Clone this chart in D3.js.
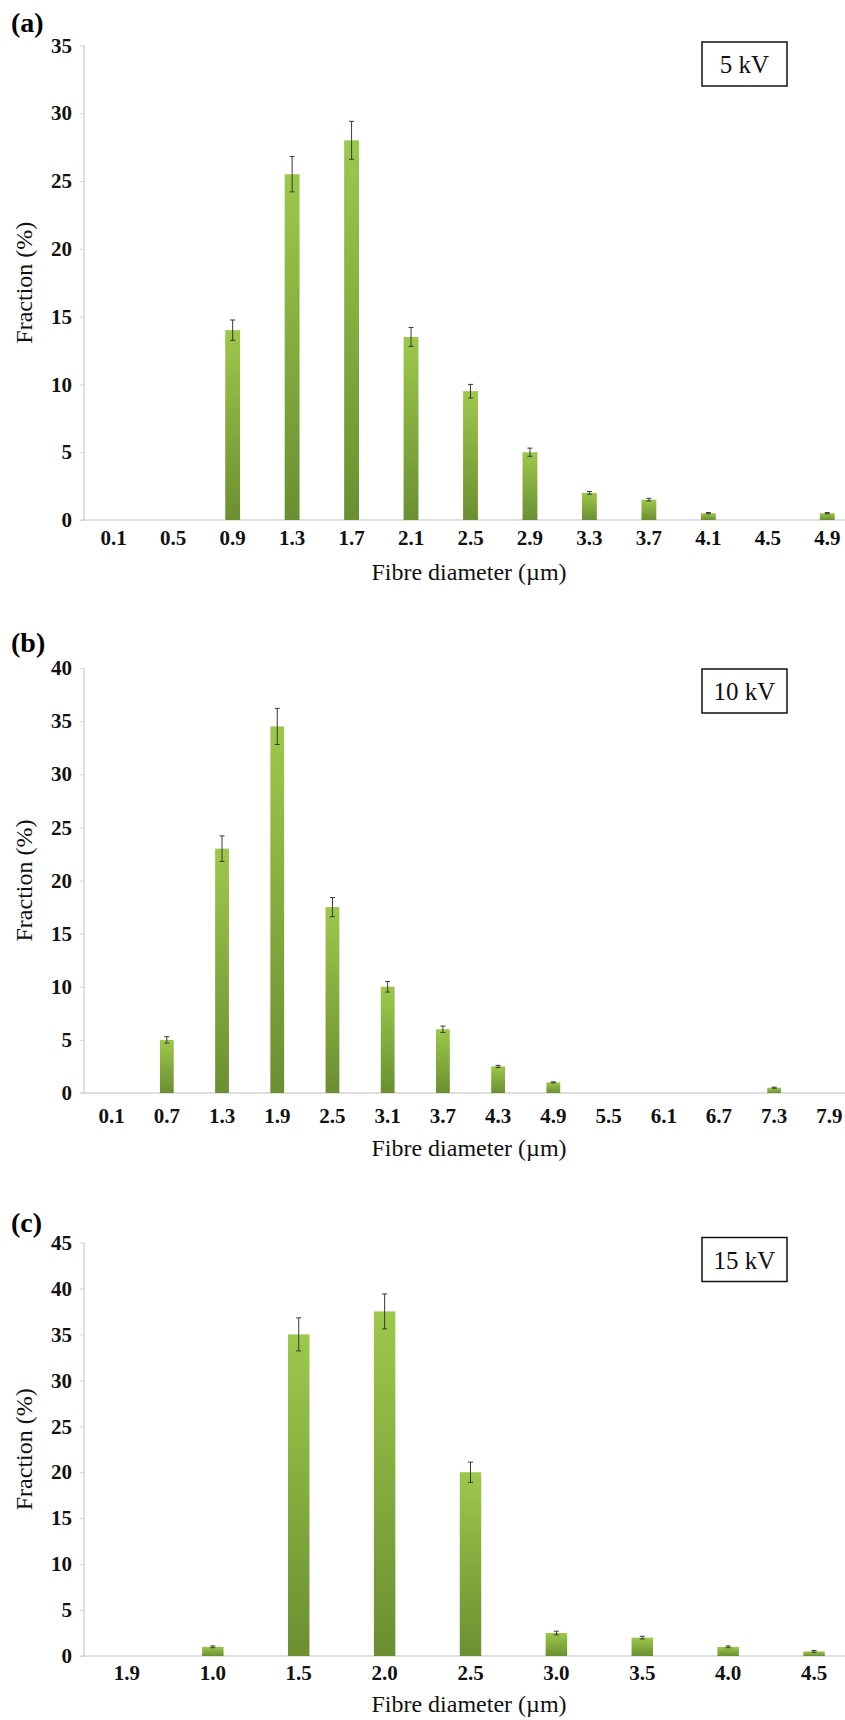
<!DOCTYPE html>
<html>
<head>
<meta charset="utf-8">
<script src="https://cdn.jsdelivr.net/npm/d3@7"></script>
<style>
body { margin: 0; background: #fff; }
svg  { display: block; }
svg text { font-family: "Liberation Serif", "Times New Roman", Times, "DejaVu Serif", serif !important; }
</style>
</head>
<body>
<svg id="chart" width="845" height="1720"></svg>
<script>
// (a) 5 kV
var catsA = [ '0.1', '0.5', '0.9', '1.3', '1.7', '2.1', '2.5', '2.9', '3.3', '3.7', '4.1', '4.5', '4.9' ];
var valsA = [ 0, 0, 14, 25.5, 28, 13.5, 9.5, 5, 2, 1.5, 0.5, 0, 0.5 ];
var errA  = [ 0, 0, 0.75, 1.3, 1.4, 0.7, 0.5, 0.3, 0.1, 0.1, 0.05, 0, 0.05 ];
// (b) 10 kV
var catsB = [ '0.1', '0.7', '1.3', '1.9', '2.5', '3.1', '3.7', '4.3', '4.9', '5.5', '6.1', '6.7', '7.3', '7.9' ];
var valsB = [ 0, 5, 23, 34.5, 17.5, 10, 6, 2.5, 1, 0, 0, 0, 0.5, 0 ];
var errB  = [ 0, 0.3, 1.2, 1.7, 0.9, 0.5, 0.3, 0.1, 0.05, 0, 0, 0, 0.05, 0 ];
// (c) 15 kV
var catsC = [ '1.9', '1.0', '1.5', '2.0', '2.5', '3.0', '3.5', '4.0', '4.5' ];
var valsC = [ 0, 1, 35, 37.5, 20, 2.5, 2, 1, 0.5 ];
var errC  = [ 0, 0.1, 1.8, 1.9, 1.1, 0.2, 0.15, 0.1, 0.1 ];
// y axis ticks
var ticksA = [ 0, 5, 10, 15, 20, 25, 30, 35 ];
var ticksB = [ 0, 5, 10, 15, 20, 25, 30, 35, 40 ];
var ticksC = [ 0, 5, 10, 15, 20, 25, 30, 35, 40, 45 ];

var xTitle = 'Fibre diameter (\u00b5m)';
var yTitle = 'Fraction (%)';

// layout of the three stacked panels (pixels)
var panels = [
	  { tag: '(a)', kv: '5 kV',  cats: catsA, vals: valsA, err: errA, ticks: ticksA, top: 45.4,   bottom: 520,  tagY: 32,   boxY: 42,     lblDy: 25, titleY: 580 }
	, { tag: '(b)', kv: '10 kV', cats: catsB, vals: valsB, err: errB, ticks: ticksB, top: 668,    bottom: 1093, tagY: 652,  boxY: 669,    lblDy: 30, titleY: 1156 }
	, { tag: '(c)', kv: '15 kV', cats: catsC, vals: valsC, err: errC, ticks: ticksC, top: 1242.5, bottom: 1656, tagY: 1232, boxY: 1237.5, lblDy: 24, titleY: 1712 }
];

var L = 84, R = 857; // plot area left / right
var svg = d3.select( '#chart' );

var grad = svg.append( 'defs' )
	.append( 'linearGradient' )
	.attr( 'id', 'barfill' )
	.attr( 'x1', 0 ).attr( 'y1', 0 )
	.attr( 'x2', 0 ).attr( 'y2', 1 );
grad.append( 'stop' ).attr( 'offset', '0%' ).attr( 'stop-color', '#9dc84b' );
grad.append( 'stop' ).attr( 'offset', '100%' ).attr( 'stop-color', '#6b8f31' );

panels.forEach( function( p ) {
	var g = svg.append( 'g' );
	var x = d3.scaleBand()
		.domain( p.cats )
		.range( [ L, R ] );
	var y = d3.scaleLinear()
		.domain( [ 0, p.ticks[ p.ticks.length - 1 ] ] )
		.range( [ p.bottom, p.top ] );
	var bw = x.bandwidth() / 4; // excel gap width 300%

	// y axis
	var yAxis = g.append( 'g' )
		.attr( 'transform', 'translate(' + L + ',0)' )
		.call( d3.axisLeft( y ).tickValues( p.ticks ).tickSize( 4 ).tickPadding( 8 ).tickFormat( d3.format( 'd' ) ) );
	yAxis.attr( 'font-family', null ).attr( 'font-size', null );
	yAxis.select( '.domain' ).attr( 'stroke', '#d4d4d4' ).attr( 'stroke-width', 1.5 ).attr( 'd', 'M0,' + y( 0 ) + 'V' + p.top );
	yAxis.selectAll( '.tick line' ).attr( 'stroke', '#d4d4d4' );
	yAxis.selectAll( '.tick text' )
		.attr( 'fill', '#111' )
		.style( 'font-size', '21px' )
		.style( 'font-weight', 'bold' );

	// x axis
	var xAxis = g.append( 'g' )
		.attr( 'transform', 'translate(0,' + p.bottom + ')' )
		.call( d3.axisBottom( x ).tickSize( 0 ) );
	xAxis.attr( 'font-family', null ).attr( 'font-size', null );
	xAxis.select( '.domain' ).attr( 'stroke', '#d4d4d4' ).attr( 'stroke-width', 1.5 ).attr( 'd', 'M' + ( L - 3 ) + ',0H' + R );
	xAxis.selectAll( '.tick text' )
		.attr( 'fill', '#111' )
		.attr( 'dy', 0 )
		.attr( 'y', p.lblDy )
		.style( 'font-size', '21px' )
		.style( 'font-weight', 'bold' );

	// bars
	var rows = p.cats.map( function( c, i ) { return { cat: c, v: p.vals[ i ], e: p.err[ i ] }; } );
	var shown = rows.filter( function( d ) { return d.v > 0; } );
	g.selectAll( 'rect.bar' )
		.data( shown )
		.enter()
		.append( 'rect' )
		.attr( 'class', 'bar' )
		.attr( 'x', function( d ) { return x( d.cat ) + x.bandwidth() / 2 - bw / 2; } )
		.attr( 'y', function( d ) { return y( d.v ); } )
		.attr( 'width', bw )
		.attr( 'height', function( d ) { return y( 0 ) - y( d.v ); } )
		.attr( 'fill', 'url(#barfill)' );

	// error bars
	var eb = g.selectAll( 'g.err' )
		.data( shown )
		.enter()
		.append( 'g' )
		.attr( 'class', 'err' )
		.attr( 'stroke', '#3a3a3a' )
		.attr( 'stroke-width', 1 );
	eb.append( 'line' )
		.attr( 'x1', function( d ) { return x( d.cat ) + x.bandwidth() / 2; } )
		.attr( 'x2', function( d ) { return x( d.cat ) + x.bandwidth() / 2; } )
		.attr( 'y1', function( d ) { return y( d.v - d.e ); } )
		.attr( 'y2', function( d ) { return y( d.v + d.e ); } );
	[ -1, 1 ].forEach( function( s ) { // caps
		eb.append( 'line' )
			.attr( 'x1', function( d ) { return x( d.cat ) + x.bandwidth() / 2 - 2.5; } )
			.attr( 'x2', function( d ) { return x( d.cat ) + x.bandwidth() / 2 + 2.5; } )
			.attr( 'y1', function( d ) { return y( d.v + s * d.e ); } )
			.attr( 'y2', function( d ) { return y( d.v + s * d.e ); } );
	} );

	// axis titles
	g.append( 'text' )
		.attr( 'x', 469 )
		.attr( 'y', p.titleY )
		.attr( 'text-anchor', 'middle' )
		.attr( 'fill', '#111' )
		.style( 'font-size', '24px' )
		.text( xTitle );
	g.append( 'text' )
		.attr( 'transform', 'translate(32,' + ( ( p.top + p.bottom ) / 2 ) + ') rotate(-90)' )
		.attr( 'text-anchor', 'middle' )
		.attr( 'fill', '#111' )
		.style( 'font-size', '24px' )
		.text( yTitle );

	// panel tag
	g.append( 'text' )
		.attr( 'x', 11 )
		.attr( 'y', p.tagY )
		.attr( 'fill', '#000' )
		.style( 'font-size', '28px' )
		.style( 'font-weight', 'bold' )
		.text( p.tag );

	// voltage box
	g.append( 'rect' )
		.attr( 'x', 702 )
		.attr( 'y', p.boxY )
		.attr( 'width', 85 )
		.attr( 'height', 44 )
		.attr( 'fill', '#fff' )
		.attr( 'stroke', '#111' )
		.attr( 'stroke-width', 1.5 );
	g.append( 'text' )
		.attr( 'x', 744.5 )
		.attr( 'y', p.boxY + 31 )
		.attr( 'text-anchor', 'middle' )
		.attr( 'fill', '#111' )
		.style( 'font-size', '25px' )
		.text( p.kv );
} );
</script>
</body>
</html>
